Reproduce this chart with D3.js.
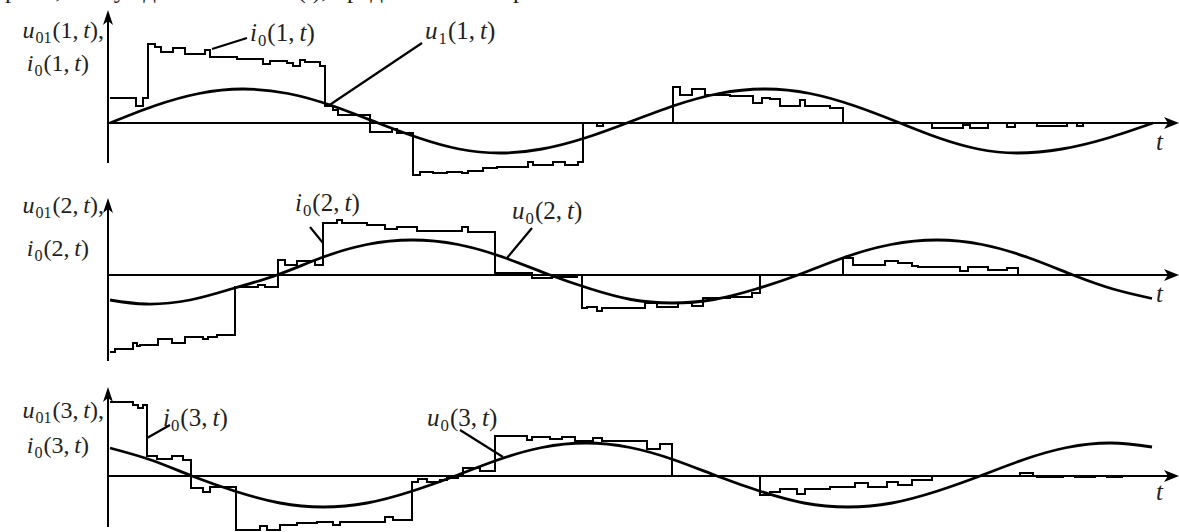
<!DOCTYPE html>
<html>
<head>
<meta charset="utf-8">
<script src="https://cdn.jsdelivr.net/npm/d3@7"></script>
<style>
body { margin: 0; background: #fff; }
svg text { font-family: "Liberation Serif", "Times New Roman", "DejaVu Serif", serif; fill: #231f20; }
</style>
</head>
<body>
<svg class="chart-waves" width="1179" height="532"></svg>
<script>
// time runs 0 .. 10.7 (arbitrary units), values in arbitrary units
var t_range = [-0.01, 10.7];
var serif = "Liberation Serif, Times New Roman, DejaVu Serif, serif";

// panel 1: u1(1,t) and i0(1,t)
var u1_1 = [[0.01,0],[0.45,1.7],[0.90,2.95],[1.34,3.4],[1.79,2.95],[2.24,1.7],[2.69,0],
            [3.10,-1.5],[3.50,-2.6],[3.91,-3.0],[4.33,-2.6],[4.76,-1.5],[5.18,0],
            [5.64,1.7],[6.10,2.95],[6.56,3.4],[7.01,2.95],[7.46,1.7],[7.91,0],
            [8.30,-1.5],[8.69,-2.6],[9.08,-3.0],[9.53,-2.6],[9.99,-1.5],[10.44,0]];
var i0_1 = [[0.01,2.5],[0.27,1.7],[0.34,2.5],[0.39,7.9],[0.46,7.6],[0.52,7.1],[0.64,7.5],[0.76,6.9],
            [0.96,7.3],[1.01,6.6],[1.28,6.4],[1.54,5.9],[1.61,6.2],[1.78,6.0],[1.84,5.7],[1.91,6.3],
            [1.96,6.1],[2.11,5.7],[2.16,1.7],[2.24,1.3],[2.29,0.8],[2.61,-0.9],[2.83,-0.6],[2.88,-1.0],
            [3.04,-5.2],[3.11,-4.9],[3.24,-5.0],[3.38,-4.9],[3.53,-5.0],[3.59,-4.8],[3.74,-4.5],[3.88,-4.4],
            [4.19,-3.9],[4.24,-4.2],[4.44,-3.9],[4.56,-4.2],[4.69,-3.9],[4.74,0],[4.88,-0.3],[4.94,0],
            [5.64,3.6],[5.71,2.8],[5.83,3.4],[5.96,2.8],[6.21,2.7],[6.44,2.0],[6.53,2.5],[6.61,2.4],
            [6.71,1.7],[6.91,2.3],[6.96,1.7],[7.21,1.5],[7.34,0],[8.23,-0.5],[8.54,-0.2],[8.61,-0.5],
            [8.79,0],[8.98,-0.4],[9.06,0],[9.28,-0.3],[9.58,0],[9.68,-0.3],[9.74,0]];

// panel 2: u0(2,t) and i0(2,t)
var u0_2 = [[0.01,-2.5],[0.37,-2.9],[0.81,-2.5],[1.24,-1.35],[1.68,0],[2.13,1.75],[2.58,3.05],
            [3.03,3.5],[3.49,3.05],[3.95,1.75],[4.41,0],[4.82,-1.4],[5.22,-2.45],[5.63,-2.8],
            [6.05,-2.45],[6.47,-1.4],[6.89,0],[7.35,1.75],[7.82,3.05],[8.28,3.5],[8.73,3.05],
            [9.19,1.75],[9.64,0],[10.04,-1.4],[10.43,-2.35]];
var i0_2 = [[0.01,-7.7],[0.06,-7.4],[0.24,-6.8],[0.28,-7.1],[0.31,-7.0],[0.49,-6.4],[0.63,-6.8],
            [0.76,-6.2],[0.94,-6.4],[0.99,-6.2],[1.08,-6.0],[1.26,-1.2],[1.49,-1.0],[1.56,-1.2],
            [1.69,1.5],[1.76,1.0],[1.88,1.4],[2.06,1.0],[2.14,5.2],[2.28,5.5],[2.33,5.2],[2.58,5.0],
            [2.76,4.6],[2.88,4.8],[3.08,4.4],[3.53,4.8],[3.59,4.3],[3.86,0.2],[4.23,-0.3],[4.43,-0.2],
            [4.68,0],[4.73,-3.3],[4.78,-3.2],[4.88,-3.6],[4.93,-3.3],[5.36,-2.8],[5.48,-3.2],[5.69,-2.8],
            [5.83,-3.1],[5.94,-2.3],[6.21,-2.2],[6.43,-1.8],[6.51,0],[7.34,1.7],[7.44,1.0],[7.76,1.4],
            [7.89,1.2],[8.03,0.9],[8.09,0.8],[8.51,0.4],[8.59,0.8],[8.79,0.5],[8.98,0.7],[9.09,0]];

// panel 3: u0(3,t) and i0(3,t)
var u0_3 = [[0.01,2.8],[0.42,1.6],[0.83,0],[1.27,-1.55],[1.71,-2.7],[2.14,-3.1],[2.58,-2.7],
            [3.02,-1.55],[3.46,0],[3.90,1.65],[4.33,2.85],[4.77,3.3],[5.21,2.85],[5.64,1.65],
            [6.08,0],[6.52,-1.55],[6.95,-2.7],[7.39,-3.1],[7.83,-2.7],[8.27,-1.55],[8.71,0],
            [9.15,1.65],[9.58,2.85],[10.02,3.3],[10.43,2.9]];
var i0_3 = [[0.01,7.4],[0.24,7.1],[0.29,6.8],[0.34,7.1],[0.38,2.0],[0.48,1.7],[0.63,2.0],[0.74,1.6],
            [0.82,-1.2],[0.94,-1.6],[1.01,-1.1],[1.27,-5.4],[1.51,-5.0],[1.58,-5.4],[1.71,-4.9],
            [1.88,-4.7],[2.08,-4.6],[2.24,-4.9],[2.31,-4.6],[2.76,-4.1],[2.84,-4.4],[3.03,-0.6],
            [3.09,-0.3],[3.18,-0.6],[3.31,-0.4],[3.38,-0.2],[3.49,0.1],[3.54,0.8],[3.71,0.5],[3.86,4.0],
            [4.18,3.6],[4.23,3.9],[4.41,3.7],[4.53,3.9],[4.66,3.5],[4.84,3.8],[4.93,3.5],[5.38,2.7],
            [5.51,3.2],[5.63,0],[6.51,-1.9],[6.61,-1.6],[6.71,-1.3],[6.88,-1.8],[6.96,-1.3],[7.21,-1.1],
            [7.46,-0.7],[7.59,-1.1],[7.78,-0.6],[7.89,-0.9],[8.03,-0.4],[8.23,0],[9.11,0.3],[9.24,0],
            [9.28,-0.1],[9.54,0],[9.66,-0.1],[9.86,0],[9.98,-0.1],[10.13,0],[10.38,0]];

// curve labels: [head, subscript, index, t, v]
var labels_1 = [["i","0","1",1.41,8.2],["u","1","1",3.16,8.4]];
var labels_2 = [["i","0","2",1.86,6.4],["u","0","2",4.03,5.6]];
var labels_3 = [["i","0","3",0.54,5.0],["u","0","3",3.18,5.0]];

// leader lines from the curve to its label, in (t, v)
var leaders_1 = [[[1.03,7.4],[1.38,8.5]],[[2.19,1.7],[3.13,8.0]]];
var leaders_2 = [[[2.01,4.8],[2.14,3.2]],[[4.23,4.7],[3.98,1.7]]];
var leaders_3 = [[[0.38,3.8],[0.61,5.1]],[[3.51,4.6],[3.94,1.9]]];

// y-axis title baselines (v) for the two lines
var titles_v = [[8.5,5.2],[6.2,1.9],[5.8,2.3]];

var panels = [
    {n: "1", top: 10,  bottom: 163, domain: [-4.0, 11.3], sine: u1_1, step: i0_1, labels: labels_1, leaders: leaders_1, tv: -2.7},
    {n: "2", top: 198, bottom: 361, domain: [-8.6, 7.7],  sine: u0_2, step: i0_2, labels: labels_2, leaders: leaders_2, tv: -2.7},
    {n: "3", top: 387, bottom: 527, domain: [-5.1, 8.9],  sine: u0_3, step: i0_3, labels: labels_3, leaders: leaders_3, tv: -2.4}
];

var svg = d3.select("svg.chart-waves");
var x = d3.scaleLinear().domain(t_range).range([108, 1179]);

function mathLabel (g, px, py, size, head, sub, n, comma, anchor) {
    var t = g.append("text")
        .attr("x", px).attr("y", py)
        .attr("font-family", serif)
        .attr("font-size", size)
        .attr("text-anchor", anchor || "start");
    t.append("tspan").attr("font-style", "italic").text(head);
    t.append("tspan").attr("font-size", size * 0.67).attr("dy", 5).attr("dx", 1).text(sub);
    t.append("tspan").attr("dy", -5).attr("dx", 1).text("(" + n + ",\u2009");
    t.append("tspan").attr("font-style", "italic").text("t");
    t.append("tspan").text(")" + (comma ? "," : ""));
    return t;
}

function drawPanel (p, k) {
    var y = d3.scaleLinear().domain(p.domain).range([p.bottom, p.top]);
    var g = svg.append("g").attr("class", "panel");

    // axes
    g.append("line")
        .attr("x1", x(t_range[0])).attr("x2", x(t_range[1]) - 6)
        .attr("y1", y(0)).attr("y2", y(0))
        .attr("stroke", "#000").attr("stroke-width", 2.2)
        .attr("shape-rendering", "crispEdges");
    g.append("line")
        .attr("x1", x(t_range[0])).attr("x2", x(t_range[0]))
        .attr("y1", p.bottom).attr("y2", p.top + 6)
        .attr("stroke", "#000").attr("stroke-width", 2.2)
        .attr("shape-rendering", "crispEdges");

    var ax = x(t_range[1]), ay = y(0);
    g.append("path")
        .attr("d", "M" + ax + "," + ay + "L" + (ax - 15) + "," + (ay - 6) + "L" + (ax - 11) + "," + ay +
                   "L" + (ax - 15) + "," + (ay + 6) + "Z")
        .attr("fill", "#000");
    var bx = x(t_range[0]), by = p.top;
    g.append("path")
        .attr("d", "M" + bx + "," + by + "L" + (bx - 5) + "," + (by + 15) + "L" + bx + "," + (by + 11) +
                   "L" + (bx + 5) + "," + (by + 15) + "Z")
        .attr("fill", "#000");

    // staircase current
    g.append("path")
        .datum(p.step)
        .attr("d", d3.line().curve(d3.curveStepAfter)
            .x(function (d) { return x(d[0]); })
            .y(function (d) { return y(d[1]); }))
        .attr("fill", "none").attr("stroke", "#000").attr("stroke-width", 2)
        .attr("shape-rendering", "crispEdges");

    // smooth voltage
    g.append("path")
        .datum(p.sine)
        .attr("d", d3.line().curve(d3.curveNatural)
            .x(function (d) { return x(d[0]); })
            .y(function (d) { return y(d[1]); }))
        .attr("fill", "none").attr("stroke", "#000").attr("stroke-width", 2.8);

    // leaders
    g.selectAll("line.leader")
        .data(p.leaders)
        .enter()
        .append("line")
        .attr("class", "leader")
        .attr("x1", function (d) { return x(d[0][0]); })
        .attr("y1", function (d) { return y(d[0][1]); })
        .attr("x2", function (d) { return x(d[1][0]); })
        .attr("y2", function (d) { return y(d[1][1]); })
        .attr("stroke", "#000").attr("stroke-width", 2.2);

    p.labels.forEach(function (l) {
        mathLabel(g, x(l[3]), y(l[4]), 25, l[0], l[1], l[2], false);
    });

    // y-axis title
    mathLabel(g, x(-0.05), y(titles_v[k][0]), 24, "u", "01", p.n, true, "end");
    mathLabel(g, x(-0.20), y(titles_v[k][1]), 24, "i", "0", p.n, false, "end");

    // t label
    g.append("text")
        .attr("x", x(10.47)).attr("y", y(p.tv))
        .attr("font-family", serif)
        .attr("font-size", 25).attr("font-style", "italic")
        .text("t");
}

// clipped line of the page text above the figure
svg.append("text")
    .attr("x", -6).attr("y", -2)
    .attr("font-family", serif)
    .attr("font-size", 25)
    .text("ерсии, возбуждаемая током i(t), представлена на рис. 3.");

panels.forEach(drawPanel);
</script>
</body>
</html>
